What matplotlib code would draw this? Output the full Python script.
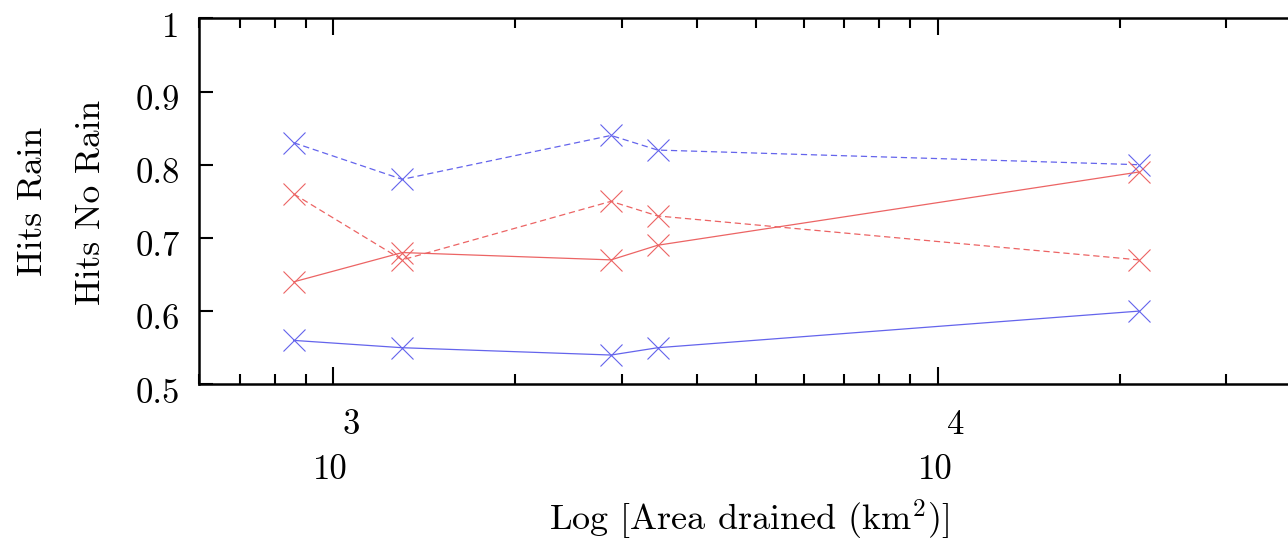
import numpy as np
import matplotlib.pyplot as plt
import matplotlib.transforms as mtransforms

plt.rcParams['font.family'] = ['cmr10', 'DejaVu Serif']
plt.rcParams['mathtext.fontset'] = 'cm'
plt.rcParams['axes.formatter.use_mathtext'] = True

# Drained area (km2) of the five basins
area = [860, 1300, 2880, 3440, 21500]

# Hit rates
rain_a = [0.83, 0.78, 0.84, 0.82, 0.80]      # blue dashed
rain_b = [0.56, 0.55, 0.54, 0.55, 0.60]      # blue solid
norain_a = [0.76, 0.67, 0.75, 0.73, 0.67]    # red dashed
norain_b = [0.64, 0.68, 0.67, 0.69, 0.79]    # red solid

blue = '#6464ec'
red = '#ec6464'

fig = plt.figure(figsize=(12.88, 5.4), dpi=100)
ax = fig.add_axes([0.1547, 0.2883, 0.856, 0.6778])

kw = dict(marker='x', markersize=16, markeredgewidth=0.8, linewidth=0.9)
ax.plot(area, rain_a, color=blue, linestyle=(0, (5, 3)), **kw)
ax.plot(area, rain_b, color=blue, linestyle='-', **kw)
ax.plot(area, norain_a, color=red, linestyle=(0, (5, 3)), **kw)
ax.plot(area, norain_b, color=red, linestyle='-', **kw)

ax.set_xscale('log')
ax.set_xlim(600, 4e4)
ax.set_ylim(0.5, 1.0)

ax.set_yticks([0.5, 0.6, 0.7, 0.8, 0.9, 1.0])
ax.set_yticklabels(['0.5', '0.6', '0.7', '0.8', '0.9', '1'])
ax.tick_params(axis='y', which='both', direction='in', left=True, right=False,
               length=10, width=1.5, labelsize=25, pad=14)
ax.tick_params(axis='x', which='major', direction='in', top=True, bottom=True,
               length=12, width=1.5, labelbottom=False)
ax.tick_params(axis='x', which='minor', direction='in', top=True, bottom=True,
               length=7, width=1.5, labelbottom=False)

# y tick labels sit a little below their ticks
shift = mtransforms.ScaledTranslation(0, -6 / 100, fig.dpi_scale_trans)
for lab in ax.get_yticklabels():
    lab.set_transform(lab.get_transform() + shift)

for s in ax.spines.values():
    s.set_linewidth(1.8)

# old style tick labels: exponent above the base
for dec, exp in [(1e3, '3'), (1e4, '4')]:
    ax.annotate('10', xy=(dec, 0), xycoords=ax.get_xaxis_transform(),
                xytext=(-3, -86), textcoords='offset pixels',
                ha='center', va='center', fontsize=25)
    ax.annotate(exp, xy=(dec, 0), xycoords=ax.get_xaxis_transform(),
                xytext=(18, -41), textcoords='offset pixels',
                ha='center', va='center', fontsize=25)

fig.text(749 / 1288, 1 - 520 / 540, r'Log [Area drained (km$^2$)]',
         ha='center', va='center', fontsize=26)
fig.text(33 / 1288, 1 - 201 / 540, 'Hits Rain', rotation=90,
         ha='center', va='center', fontsize=25.5)
fig.text(91 / 1288, 1 - 202 / 540, 'Hits No Rain', rotation=90,
         ha='center', va='center', fontsize=25.5)

fig.savefig('out.png', dpi=100)
